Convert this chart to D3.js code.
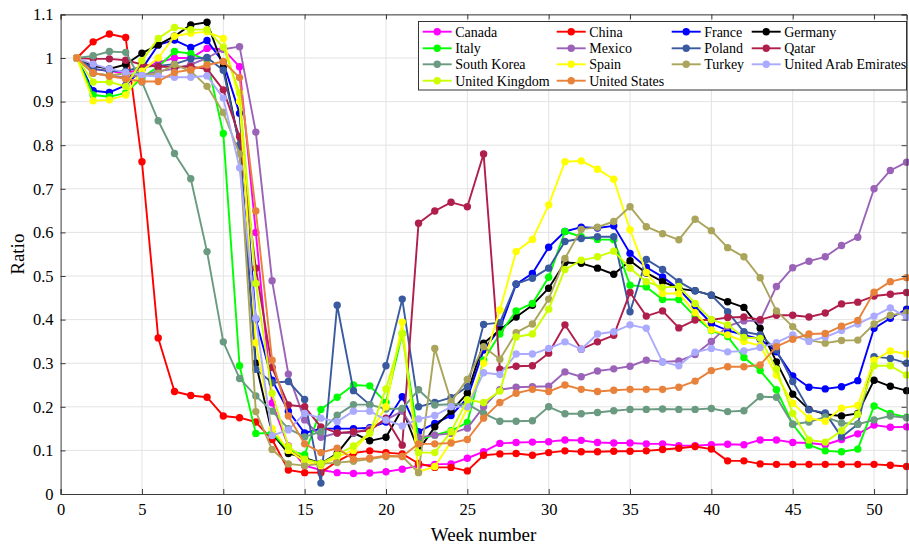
<!DOCTYPE html>
<html><head><meta charset="utf-8">
<script src="https://cdn.jsdelivr.net/npm/d3@7"></script>
<style>body{margin:0;background:#fff}svg{display:block}</style>
</head><body>
<svg id="chart" width="909" height="546"></svg>
<script>
const weeks = d3.range(1, 53);
const xTicks = [0,5,10,15,20,25,30,35,40,45,50];
const yTicks = [0,0.1,0.2,0.3,0.4,0.5,0.6,0.7,0.8,0.9,1,1.1];
const yTickLabels = ["0","0.1","0.2","0.3","0.4","0.5","0.6","0.7","0.8","0.9","1","1.1"];
const countries = ["Canada","China","France","Germany","Italy","Mexico","Poland","Qatar","South Korea","Spain","Turkey","United Arab Emirates","United Kingdom","United States"];
const colors = ["#ff00ff","#ff0000","#0000ff","#000000","#00ff00","#9b63b8","#3a5aa0","#b01e4b","#6a9a80","#ffff00","#aaa55a","#aaaaff","#ccff00","#e8823a"];

const canada = [1.0,0.975,0.97,0.965,0.975,0.99,1.0,1.0,1.022,1.02, 0.98,0.60,0.209,0.11,0.065,0.055,0.049,0.047,0.048,0.051, 0.057,0.065,0.068,0.069,0.082,0.097,0.116,0.118,0.119,0.12, 0.124,0.123,0.118,0.117,0.117,0.115,0.115,0.111,0.111,0.113, 0.114,0.113,0.124,0.124,0.118,0.117,0.113,0.125,0.138,0.158,0.153,0.154];
const china = [1.0,1.037,1.055,1.047,0.762,0.358,0.235,0.226,0.222,0.179, 0.175,0.165,0.125,0.055,0.049,0.049,0.075,0.094,0.099,0.095, 0.092,0.07,0.061,0.061,0.053,0.089,0.092,0.093,0.089,0.095, 0.099,0.097,0.097,0.098,0.098,0.099,0.102,0.105,0.109,0.103, 0.076,0.076,0.069,0.068,0.068,0.068,0.068,0.068,0.068,0.068,0.066,0.063];
const france = [1.0,0.925,0.921,0.937,0.975,1.03,1.041,1.024,1.04,0.99, 0.873,0.40,0.261,0.19,0.14,0.15,0.15,0.15,0.152,0.165, 0.223,0.143,0.162,0.18,0.22,0.33,0.38,0.481,0.506,0.566, 0.602,0.612,0.61,0.615,0.552,0.52,0.498,0.47,0.43,0.391, 0.375,0.365,0.355,0.326,0.271,0.245,0.241,0.246,0.26,0.38,0.403,0.424];
const germany = [1.0,0.982,0.975,0.985,1.011,1.03,1.05,1.076,1.082,0.98, 0.8,0.3,0.139,0.093,0.083,0.07,0.093,0.14,0.122,0.13, 0.195,0.1,0.154,0.19,0.231,0.346,0.376,0.406,0.433,0.472, 0.531,0.529,0.518,0.504,0.535,0.507,0.487,0.471,0.466,0.456, 0.441,0.428,0.38,0.303,0.229,0.194,0.183,0.179,0.185,0.261,0.247,0.237];
const italy = [1.0,0.915,0.911,0.92,0.955,0.98,1.015,1.01,0.995,0.827, 0.294,0.139,0.14,0.1,0.09,0.194,0.222,0.25,0.248,0.21, 0.368,0.125,0.135,0.145,0.164,0.307,0.367,0.42,0.437,0.497, 0.602,0.59,0.584,0.583,0.479,0.475,0.446,0.446,0.407,0.375, 0.361,0.313,0.283,0.239,0.16,0.112,0.099,0.097,0.103,0.202,0.185,0.176];
const mexico = [1.0,0.965,0.96,0.955,0.96,0.97,0.975,0.985,1.0,1.02, 1.026,0.83,0.489,0.275,0.17,0.13,0.14,0.14,0.15,0.17, 0.19,0.13,0.135,0.139,0.151,0.2,0.239,0.245,0.246,0.247, 0.28,0.269,0.282,0.287,0.293,0.307,0.303,0.305,0.32,0.35, 0.385,0.397,0.397,0.476,0.519,0.534,0.544,0.57,0.589,0.70,0.742,0.761];
const poland = [1.0,0.975,0.97,0.97,0.98,0.982,0.986,0.998,1.001,0.972, 0.80,0.286,0.255,0.258,0.217,0.025,0.433,0.237,0.205,0.294, 0.447,0.2,0.21,0.221,0.246,0.389,0.393,0.482,0.495,0.518, 0.579,0.586,0.59,0.59,0.418,0.538,0.515,0.487,0.466,0.456, 0.418,0.372,0.365,0.33,0.258,0.193,0.186,0.131,0.16,0.315,0.311,0.30];
const qatar = [1.0,0.998,0.998,0.995,0.985,0.98,0.98,0.98,0.975,0.927, 0.82,0.518,0.29,0.204,0.2,0.154,0.14,0.143,0.145,0.174, 0.112,0.621,0.649,0.669,0.659,0.78,0.286,0.293,0.294,0.323, 0.388,0.332,0.349,0.364,0.462,0.408,0.42,0.381,0.399,0.399, 0.405,0.406,0.40,0.41,0.41,0.406,0.415,0.436,0.44,0.454,0.458,0.462];
const southKorea = [1.0,1.005,1.015,1.013,0.945,0.856,0.781,0.723,0.556,0.349, 0.265,0.225,0.19,0.15,0.131,0.143,0.181,0.205,0.205,0.195, 0.196,0.239,0.204,0.206,0.206,0.185,0.167,0.167,0.168,0.2, 0.184,0.184,0.187,0.191,0.194,0.194,0.195,0.194,0.194,0.196, 0.189,0.191,0.223,0.222,0.16,0.165,0.177,0.163,0.16,0.17,0.179,0.175];
const spain = [1.0,0.902,0.904,0.915,0.97,1.0,1.05,1.057,1.06,1.045, 0.9,0.347,0.15,0.1,0.075,0.065,0.085,0.1,0.14,0.2, 0.394,0.051,0.063,0.12,0.197,0.3,0.422,0.556,0.584,0.663, 0.762,0.764,0.745,0.722,0.606,0.508,0.46,0.46,0.416,0.376, 0.365,0.35,0.34,0.273,0.208,0.174,0.167,0.197,0.203,0.307,0.328,0.321];
const turkey = [1.0,0.965,0.96,0.965,0.96,0.965,0.985,0.97,0.935,0.875, 0.78,0.189,0.102,0.069,0.065,0.069,0.072,0.075,0.08,0.086, 0.086,0.049,0.334,0.212,0.263,0.338,0.309,0.37,0.39,0.447, 0.54,0.607,0.612,0.625,0.659,0.613,0.597,0.583,0.63,0.604, 0.565,0.544,0.496,0.42,0.384,0.353,0.346,0.352,0.353,0.39,0.41,0.416];
const uae = [1.0,0.986,0.975,0.967,0.96,0.958,0.956,0.956,0.959,0.908, 0.748,0.403,0.134,0.147,0.185,0.174,0.166,0.19,0.19,0.17, 0.156,0.172,0.18,0.2,0.2,0.278,0.274,0.321,0.321,0.334, 0.349,0.332,0.367,0.372,0.388,0.38,0.303,0.294,0.325,0.334, 0.326,0.328,0.336,0.347,0.365,0.35,0.36,0.375,0.39,0.408,0.427,0.405];
const uk = [1.0,0.945,0.945,0.935,0.994,1.045,1.07,1.065,1.065,1.025, 0.92,0.483,0.231,0.109,0.08,0.07,0.09,0.11,0.14,0.241, 0.367,0.095,0.095,0.143,0.216,0.21,0.236,0.36,0.367,0.424, 0.515,0.536,0.544,0.557,0.518,0.487,0.474,0.476,0.437,0.40, 0.388,0.359,0.357,0.286,0.185,0.124,0.119,0.145,0.183,0.294,0.294,0.273];
const us = [1.0,0.966,0.958,0.952,0.946,0.946,0.967,0.973,0.984,0.992, 0.955,0.649,0.307,0.179,0.115,0.095,0.105,0.08,0.082,0.088, 0.086,0.115,0.115,0.117,0.125,0.174,0.21,0.231,0.24,0.235, 0.25,0.24,0.235,0.238,0.24,0.24,0.24,0.245,0.259,0.283, 0.292,0.292,0.296,0.338,0.355,0.367,0.368,0.385,0.398,0.463,0.487,0.496];

const seriesValues = [canada,china,france,germany,italy,mexico,poland,qatar,southKorea,spain,turkey,uae,uk,us];

const svg = d3.select("#chart");
const L = 60.6, R = 906.6, T = 14.4, B = 494;
const x = d3.scaleLinear().domain([0,52]).range([L,R]);
const y = d3.scaleLinear().domain([0,1.1]).range([B,T]);
const axisColor = "#3a3a3a";
const font = "'Liberation Serif','Times New Roman',serif";

// grid
const grid = svg.append("g");
grid.selectAll("line.vx").data(xTicks.filter(d=>d>0)).join("line")
  .attr("x1",d=>x(d)).attr("x2",d=>x(d)).attr("y1",T).attr("y2",B)
  .attr("stroke","#e3e3e3").attr("stroke-width",1);
grid.selectAll("line.hy").data(yTicks.filter(d=>d>0)).join("line")
  .attr("x1",L).attr("x2",R).attr("y1",d=>y(d)).attr("y2",d=>y(d))
  .attr("stroke","#e3e3e3").attr("stroke-width",1);

// series
const line = d3.line().x((d,i)=>x(weeks[i])).y(d=>y(d));
const plot = svg.append("g");
seriesValues.forEach((vals,k)=>{
  const g = plot.append("g");
  g.append("path").datum(vals).attr("d",line).attr("fill","none")
   .attr("stroke",colors[k]).attr("stroke-width",1.9).attr("stroke-linejoin","round");
  g.selectAll("circle").data(vals).join("circle")
   .attr("cx",(d,i)=>x(weeks[i])).attr("cy",d=>y(d)).attr("r",3.7).attr("fill",colors[k]);
});

// axes
const xAxisB = d3.axisBottom(x).tickValues(xTicks).tickSize(-5).tickPadding(9).tickFormat(d3.format("d"));
const gxb = svg.append("g").attr("transform",`translate(0,${B})`).call(xAxisB);
const xAxisT = d3.axisTop(x).tickValues(xTicks).tickSize(-5).tickFormat("");
const gxt = svg.append("g").attr("transform",`translate(0,${T})`).call(xAxisT);
const yAxisL = d3.axisLeft(y).tickValues(yTicks).tickSize(-5).tickPadding(7).tickFormat((d,i)=>yTickLabels[i]);
const gyl = svg.append("g").attr("transform",`translate(${L},0)`).call(yAxisL);
const yAxisR = d3.axisRight(y).tickValues(yTicks).tickSize(-5).tickFormat("");
const gyr = svg.append("g").attr("transform",`translate(${R},0)`).call(yAxisR);
[gxb,gxt,gyl,gyr].forEach(g=>{
  g.selectAll("path").attr("stroke",axisColor).attr("stroke-width",1);
  g.selectAll("line").attr("stroke",axisColor);
  g.selectAll("text").attr("fill","#000").style("font-family",font).style("font-size","16.5px");
});

// labels
svg.append("text").attr("x",(L+R)/2).attr("y",541).attr("text-anchor","middle")
  .style("font-family",font).style("font-size","19px").text("Week number");
svg.append("text").attr("transform",`translate(24,${(T+B)/2}) rotate(-90)`).attr("text-anchor","middle")
  .style("font-family",font).style("font-size","19px").text("Ratio");

// legend
const lg = svg.append("g");
lg.append("rect").attr("x",418.5).attr("y",21.5).attr("width",488).attr("height",68.5)
  .attr("fill","#fff").attr("stroke","#333").attr("stroke-width",1);
const colX = [422.7,556.7,671.7,751.7];
const rowY = [31.7,48.3,64.3,80.7];
countries.forEach((c,k)=>{
  const col = k%4, row = Math.floor(k/4);
  const lx = colX[col], ly = rowY[row];
  lg.append("line").attr("x1",lx).attr("x2",lx+29).attr("y1",ly).attr("y2",ly)
    .attr("stroke",colors[k]).attr("stroke-width",1.9);
  lg.append("circle").attr("cx",lx+14.5).attr("cy",ly).attr("r",3.7).attr("fill",colors[k]);
  lg.append("text").attr("x",lx+32.5).attr("y",ly+5).style("font-family",font)
    .style("font-size","14px").text(c);
});
</script>
</body></html>
